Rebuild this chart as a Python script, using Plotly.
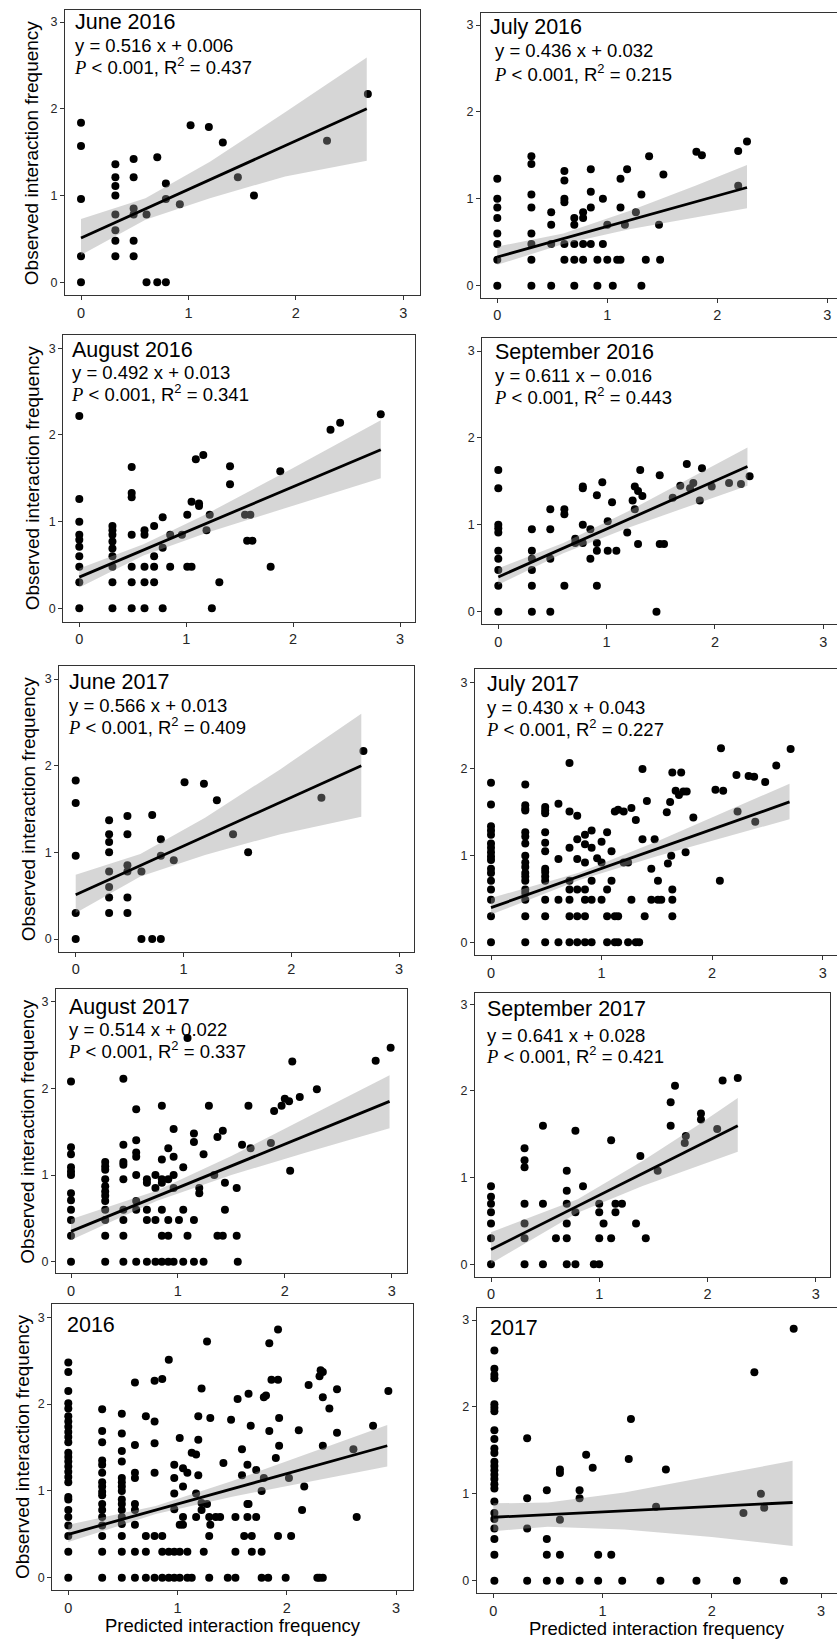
import plotly.graph_objects as go

W, H = 837, 1639

# ---------------- data ----------------
titles = ["June 2016", "July 2016", "August 2016", "September 2016",
          "June 2017", "July 2017", "August 2017", "September 2017",
          "2016", "2017"]
equations = ["y = 0.516 x + 0.006", "y = 0.436 x + 0.032", "y = 0.492 x + 0.013",
             "y = 0.611 x − 0.016", "y = 0.566 x + 0.013", "y = 0.430 x + 0.043",
             "y = 0.514 x + 0.022", "y = 0.641 x + 0.028", None, None]
r_squared = ["0.437", "0.215", "0.341", "0.443", "0.409", "0.227", "0.337", "0.421", None, None]
x_title = "Predicted interaction frequency"
y_title = "Observed interaction frequency"
tick_vals = [0, 1, 2, 3]

# June 2016
p1_x = [0, 0, 0, 0, 0, .32, .32, .32, .32, .32, .32, .32, .32, .49, .49, .49, .49, .49, .49,
        .61, .61, .71, .71, .79, .79, .79, .92, 1.02, 1.19, 1.32, 1.46, 1.61, 2.29, 2.67]
p1_y = [1.84, 1.57, .96, .30, 0, 1.36, 1.21, 1.11, 1.0, .78, .60, .48, .30, 1.42, 1.21, .85, .78, .48, .30,
        .78, 0, 1.44, 0, 1.14, .96, 0, .90, 1.81, 1.79, 1.61, 1.21, 1.0, 1.63, 2.17]
# July 2016
p2_x = [0, 0, 0, 0, 0, 0, 0, 0, .31, .31, .31, .31, .31, .31, .31, .31, .49, .49, .49, .49,
        .61, .61, .61, .61, .61, .61, .70, .70, .70, .70, .70, .78, .78, .78, .78, .85, .85, .85, .85,
        .91, .91, .96, .96, 1.0, 1.0, 1.05, 1.09, 1.12, 1.12, 1.12, 1.16, 1.18, 1.26, 1.31, 1.31,
        1.35, 1.38, 1.47, 1.48, 1.51, 1.81, 1.86, 2.19, 2.19, 2.27]
p2_y = [1.23, 1.0, .90, .78, .60, .48, .30, 0, 1.49, 1.40, 1.05, .90, .60, .48, .30, 0, .845, .70, .48, 0,
        1.32, 1.21, 1.0, .96, .48, .30, .78, .70, .48, .30, 0, .845, .78, .48, .30, 1.34, 1.08, .90, .48,
        .30, 0, 1.0, .48, .70, .30, 0, .30, .30, 1.23, .90, .70, 1.34, .845, 1.05, 0,
        .30, 1.49, .70, .30, 1.28, 1.54, 1.50, 1.55, 1.15, 1.66]
# August 2016
p3_x = [0, 0, 0, 0, 0, 0, 0, 0, 0, 0, .31, .31, .31, .31, .31, .31, .31, .31, .31,
        .49, .49, .49, .49, .49, .49, .49, .61, .61, .61, .61, .61, .70, .70, .70, .70,
        .78, .78, .78, .85, .85, .96, 1.01, 1.01, 1.05, 1.05, 1.09, 1.12, 1.12, 1.16, 1.19, 1.22,
        1.24, 1.31, 1.41, 1.41, 1.55, 1.60, 1.57, 1.62, 1.79, 1.88, 2.35, 2.44, 2.82]
p3_y = [2.22, 1.26, 1.0, .85, .79, .71, .60, .48, .30, 0, .95, .90, .85, .77, .69, .60, .48, .30, 0,
        1.63, 1.33, 1.28, .85, .48, .30, 0, .90, .85, .48, .30, 0, .95, .60, .48, .30,
        1.05, .70, 0, .85, .48, .85, 1.08, .48, .48, 1.23, 1.72, 1.21, 1.18, 1.77, .90, 1.08,
        0, .30, 1.64, 1.43, 1.08, 1.08, .78, .78, .48, 1.58, 2.06, 2.14, 2.24]
# September 2016
p4_x = [0, 0, 0, 0, 0, 0, 0, 0, 0, 0, .31, .31, .31, .31, .31, .31, .48, .48, .48, .48,
        .61, .61, .61, .71, .71, .78, .78, .78, .78, .85, .85, .91, .91, .91, .91, .96,
        1.01, 1.01, 1.05, 1.09, 1.19, 1.24, 1.26, 1.26, 1.29, 1.29, 1.31, 1.33, 1.46, 1.49, 1.49,
        1.53, 1.61, 1.68, 1.74, 1.77, 1.80, 1.86, 1.88, 1.97, 2.13, 2.24, 2.32]
p4_y = [1.63, 1.42, 1.0, .96, .91, .70, .61, .48, .30, 0, .95, .70, .61, .48, .30, 0, 1.18, .95, .61, 0,
        1.18, 1.12, .30, .84, .79, 1.44, 1.42, 1.0, .79, .95, .61, 1.34, .79, .70, .30, 1.49,
        1.04, .70, 1.26, .70, .91, 1.28, 1.44, 1.18, 1.39, .78, 1.63, 1.33, 0, 1.57, .78,
        .78, 1.31, 1.45, 1.70, 1.42, 1.48, 1.28, 1.65, 1.44, 1.48, 1.47, 1.56]
# June 2017
p5_x = [0, 0, 0, 0, 0, .31, .31, .31, .31, .31, .31, .31, .31, .48, .48, .48, .48, .48, .48,
        .61, .61, .71, .71, .79, .79, .79, .91, 1.01, 1.19, 1.31, 1.46, 1.60, 2.28, 2.67]
p5_y = [1.83, 1.57, .96, .30, 0, 1.37, 1.21, 1.12, 1.0, .78, .60, .48, .30, 1.42, 1.21, .85, .78, .48, .30,
        .78, 0, 1.43, 0, 1.15, .96, 0, .91, 1.81, 1.79, 1.60, 1.21, 1.0, 1.63, 2.17]
# July 2017
p6_x = [0] * 17 + [.31] * 18 + [.49] * 13 + [.61] * 4 + [.71] * 8 + [.78] * 6 + [.85] * 7 + [.91] * 5 + \
       [.96, 1.0, 1.0, 1.0, 1.05, 1.05, 1.05, 1.05, 1.09, 1.09, 1.12, 1.12, 1.12, 1.15, 1.15, 1.15,
        1.20, 1.20, 1.24, 1.24, 1.27, 1.27, 1.31, 1.31, 1.34, 1.37, 1.37, 1.39, 1.41, 1.45, 1.45,
        1.48, 1.51, 1.51, 1.54, 1.59, 1.60, 1.62, 1.63, 1.64, 1.64, 1.64, 1.64, 1.67, 1.70, 1.72,
        1.74, 1.77, 1.76, 1.83, 2.03, 2.08, 2.07, 2.10, 2.22, 2.33, 2.38, 2.23, 2.39, 2.48, 2.58, 2.71]
p6_y = [1.84, 1.59, 1.34, 1.29, 1.24, 1.14, 1.09, 1.04, .99, .95, .85, .80, .71, .61, .49, .30, 0,
        1.82, 1.58, 1.54, 1.52, 1.27, 1.22, 1.14, 1.0, .92, .87, .80, .76, .71, .61, .57, .49, .30, 0,
        1.56, 1.52, 1.49, 1.27, 1.15, 1.05, .85, .81, .76, .71, .49, .30, 0,
        1.60, .96, .49, 0,
        2.07, 1.51, 1.09, .71, .61, .49, .30, 0,
        1.46, 1.19, .96, .61, .30, 0,
        1.24, 1.13, .92, .61, .49, .30, 0,
        1.29, 1.09, .71, .49, 0,
        .97, .92, 1.16, .49, 1.27, .61, .30, 0, 1.05, .71, 1.51, .30, 0, 1.53, .30, 0,
        1.51, .92, .92, 0, 1.55, .49, 1.41, 0, 0, 2.0, 1.19, .30, 1.63, .85, .49,
        1.19, .71, .49, .49, 1.50, .91, 1.62, 1.0, 1.96, .61, .49, .30, 1.75, 1.70, 1.96,
        1.74, 1.74, 1.04, 1.44, 1.76, 2.24, .71, 1.75, 1.93, 1.92, 1.91, 1.51, 1.39, 1.85, 2.04, 2.23]
# August 2017
p7_x = [0] * 12 + [.32] * 12 + [.49] * 9 + [.61] * 8 + [.71] * 5 + [.79] * 4 + [.85] * 7 + [.91] * 5 + \
       [.96] * 5 + [1.01, 1.05, 1.05, 1.05, 1.09, 1.09, 1.15, 1.15, 1.15, 1.15, 1.20, 1.20, 1.24, 1.24,
                    1.29, 1.34, 1.37, 1.37, 1.42, 1.42, 1.44, 1.44, 1.55, 1.55, 1.56, 1.60, 1.68, 1.66,
                    1.87, 1.90, 1.97, 2.0, 2.04, 2.05, 2.07, 2.14, 2.30, 2.85, 2.99]
p7_y = [2.08, 1.32, 1.24, 1.09, 1.04, 1.0, .79, .71, .60, .48, .30, 0,
        1.15, 1.10, 1.06, .95, .87, .81, .76, .70, .60, .48, .30, 0,
        2.11, 1.35, 1.15, 1.12, .95, .60, .48, .30, 0,
        1.76, 1.40, 1.26, 1.21, 1.0, .70, .60, 0,
        .95, .91, .60, .48, 0,
        1.0, .85, .48, 0,
        1.80, 1.18, .95, .91, .60, .30, 0,
        1.31, .95, .48, .30, 0,
        1.53, 1.21, 1.0, .85, 0,
        .48, 1.09, .60, 0, 2.58, .30, 1.48, 1.38, .48, 0, .85, .79, 1.24, 0,
        1.80, 1.0, 1.44, .30, 1.51, .30, .91, .60, .85, .30, 0, 1.35, 1.31, 1.80,
        1.37, 1.74, 1.80, 1.88, 1.85, 1.05, 2.31, 1.90, 1.99, 2.32, 2.47]
# September 2017
p8_x = [0] * 7 + [.31] * 7 + [.48] * 3 + [.60] + [.70] * 6 + [.78] * 3 + \
       [.85, .95, 1.0, 1.0, 1.0, 1.0, 1.04, 1.11, 1.11, 1.15, 1.15, 1.21, 1.34, 1.38, 1.43, 1.54,
        1.66, 1.66, 1.70, 1.79, 1.80, 1.94, 1.94, 2.09, 2.14, 2.28]
p8_y = [.90, .78, .70, .60, .47, .30, 0,
        1.34, 1.20, 1.12, .70, .47, .30, 0,
        1.60, .70, 0, .30,
        1.08, .85, .70, .47, .30, 0,
        1.54, .60, 0,
        .90, 0, 0, .70, .60, .30, .47, 1.43, .30, .70, .60, .70, .47, 1.25, .30, 1.08,
        1.60, 1.87, 2.06, 1.40, 1.48, 1.67, 1.74, 1.56, 2.12, 2.15]
# 2016 (pooled)
p9_x = [0] * 26 + [.31] * 17 + [.49] * 16 + [.61] * 9 + [.71] * 4 + [.79] * 6 + [.86] * 4 + [.92] * 3 + \
       [.97] * 6 + [1.02] * 4 + [1.05] * 4 + [1.09] * 3 + [1.13] * 2 + [1.17] * 3 + [1.19] * 3 + \
       [1.22, 1.22, 1.22, 1.24, 1.27, 1.27, 1.29, 1.29, 1.29, 1.30, 1.30, 1.35, 1.39, 1.42, 1.46,
        1.49, 1.53, 1.53, 1.53, 1.55, 1.59, 1.59, 1.61, 1.64, 1.64, 1.64, 1.65, 1.65, 1.67, 1.68,
        1.68, 1.72, 1.72, 1.77, 1.77, 1.77, 1.79, 1.79, 1.81, 1.83, 1.84, 1.84, 1.86, 1.92, 1.92,
        1.92, 1.93, 1.93, 1.90, 1.99, 2.02, 2.04, 2.11, 2.14, 2.16, 2.20, 2.28, 2.30, 2.30, 2.31,
        2.33, 2.33, 2.33, 2.33, 2.39, 2.46, 2.46, 2.61, 2.64, 2.79, 2.93]
p9_y = [2.48, 2.37, 2.15, 2.01, 1.95, 1.86, 1.80, 1.74, 1.68, 1.62, 1.56, 1.44, 1.39, 1.34, 1.28, 1.22,
        1.16, 1.10, .93, .90, .78, .70, .60, .48, .30, 0,
        1.94, 1.69, 1.56, 1.35, 1.30, 1.21, 1.10, 1.05, .99, .95, .85, .78, .70, .60, .48, .30, 0,
        1.89, 1.66, 1.46, 1.34, 1.15, 1.10, 1.05, 1.0, .90, .85, .78, .70, .62, .48, .30, 0,
        2.25, 1.53, 1.21, 1.15, .85, .78, .61, .30, 0,
        1.86, .48, .30, 0,
        2.27, 1.80, 1.55, 1.21, .48, 0,
        2.29, .48, .30, 0,
        2.51, .30, 0,
        1.30, 1.15, .97, .79, .30, 0,
        1.61, .61, .30, 0,
        1.26, 1.05, .70, .61,
        1.21, .30, 0,
        1.44, 0,
        1.42, .97, .70,
        1.86, 1.59, 1.18,
        2.18, .86, .78, .30, 2.72, .85, .70, .48, 0, 1.84, .61, .70, .70, 1.32, 0,
        1.82, .70, 0, .30, 2.06, 1.48, 1.18, .48, 1.30, .85, .70, .85, 2.12, 1.75, .48,
        .30, 1.24, .70, 1.0, .30, 0, 2.08, 1.15, 2.10, 0, 2.70, 1.69, 2.28, 2.86, 2.28,
        .48, 1.84, 1.52, 1.38, 0, 1.15, .48, 1.70, .78, 1.05, 2.22, 0, 2.32, 0, 2.39,
        2.37, 2.08, 1.52, 0, 1.95, 2.17, 1.67, 1.48, .70, 1.75, 2.15]
# 2017 (pooled)
p10_x = [.01] * 25 + [.31] * 4 + [.49] * 4 + [.61] * 5 + [.79] * 3 + \
        [.85, .91, .96, .96, 1.08, 1.18, 1.24, 1.26, 1.49, 1.53, 1.58, 1.86, 2.23, 2.29, 2.39,
         2.45, 2.48, 2.66, 2.75]
p10_y = [2.65, 2.44, 2.37, 2.33, 2.03, 1.99, 1.95, 1.73, 1.63, 1.52, 1.47, 1.37, 1.32, 1.27, 1.22,
         1.17, 1.11, 1.06, .91, .78, .71, .60, .48, .30, 0,
         1.64, .95, .60, 0,
         1.04, .48, .30, 0,
         1.28, 1.24, .70, .30, 0,
         1.04, .95, 0,
         1.45, 1.30, .30, 0, .30, 0, 1.40, 1.86, .85, 0, 1.28, 0, 0, .78, 2.40,
         1.0, .84, 0, 2.90]

points_x = [p1_x, p2_x, p3_x, p4_x, p5_x, p6_x, p7_x, p8_x, p9_x, p10_x]
points_y = [p1_y, p2_y, p3_y, p4_y, p5_y, p6_y, p7_y, p8_y, p9_y, p10_y]

# fitted line end points and confidence band
fit_x = [[0, 2.66], [0, 2.27], [0, 2.82], [0, 2.30], [0, 2.65],
         [0, 2.70], [0, 2.98], [0, 2.28], [0, 2.92], [0, 2.74]]
fit_y = [[.51, 2.0], [.33, 1.13], [.36, 1.83], [.40, 1.67], [.51, 2.0],
         [.40, 1.62], [.35, 1.85], [.17, 1.60], [.50, 1.52], [.73, .90]]
band_x = [[0, .6, 1.2, 1.9, 2.66], [0, .6, 1.2, 1.8, 2.27], [0, .6, 1.2, 2.0, 2.82],
          [0, .6, 1.2, 1.8, 2.3], [0, .6, 1.2, 1.9, 2.65], [0, .8, 1.5, 2.1, 2.7],
          [0, .8, 1.5, 2.2, 2.98], [0, .8, 1.4, 1.9, 2.28], [0, .8, 1.5, 2.2, 2.92],
          [0, .5, 1.2, 2.0, 2.74]]
band_lo = [[.315, .72, .97, 1.22, 1.40], [.24, .48, .65, .78, .89], [.24, .61, .875, 1.185, 1.50],
           [.31, .673, .967, 1.233, 1.45], [.30, .72, .97, 1.21, 1.41], [.32, .718, .992, 1.205, 1.42],
           [.25, .70, 1.0, 1.26, 1.54], [.01, .594, .903, 1.125, 1.30], [.41, .733, .934, 1.106, 1.28],
           [.57, .62, .59, .504, .40]]
band_hi = [[.73, .97, 1.39, 1.96, 2.59], [.45, .60, .86, 1.15, 1.39], [.46, .74, 1.095, 1.62, 2.17],
           [.50, .79, 1.157, 1.555, 1.89], [.74, .98, 1.40, 1.96, 2.60], [.51, .806, 1.164, 1.493, 1.83],
           [.49, .82, 1.22, 1.66, 2.15], [.37, .75, 1.193, 1.597, 1.92], [.61, .825, 1.114, 1.43, 1.76],
           [.89, .90, 1.016, 1.204, 1.38]]

# ---------------- layout (pixel geometry) ----------------
# box left, right, top, bottom; pixel of x=0, x=3; pixel of y=0, y=3
boxes = [
    (65, 420, 10, 295, 81, 403.3, 282.3, 22),
    (481, 837, 12.7, 297.7, 497.3, 827.3, 285.7, 25),
    (63.3, 415, 335, 621.7, 79.3, 400, 608.3, 348.3),
    (482.3, 837, 338.3, 624, 498.3, 823.3, 611.7, 351),
    (59.3, 414.3, 666, 951.7, 75.7, 399, 939, 679),
    (475, 837, 669.3, 955, 491, 822.7, 942.3, 682.3),
    (56, 406.7, 989.3, 1273, 71, 391.7, 1261.7, 1001.7),
    (475, 830, 992.7, 1276.7, 491, 815.7, 1264.3, 1004.3),
    (52.3, 413.3, 1304, 1590, 68.3, 396, 1577.7, 1317.3),
    (476.7, 837, 1307.7, 1593.3, 493.3, 821, 1580.7, 1320),
]
# text: title left, eq left, title baseline, eq baseline, stat baseline
text_pos = [
    (73.3, 73.3, 30, 53.3, 75),
    (488.3, 492.7, 35, 58.3, 81.7),
    (70, 70, 358.3, 380, 401.7),
    (492.7, 492.7, 360.7, 382.7, 405),
    (66.7, 66.7, 690.7, 713.3, 735),
    (485, 485, 692.7, 715, 736.7),
    (66.7, 66.7, 1015, 1036.7, 1059.3),
    (485, 485, 1017.3, 1042.7, 1064),
    (65, 65, 1333.3, None, None),
    (488.3, 488.3, 1336, None, None),
]
ytitle_pos = [(31.7, 152.5), (33.3, 478), (28.3, 809), (26.7, 1131), (22, 1447)]
xtitle_pos = [(233, 1625), (657, 1628)]

FONT = "Liberation Sans, Arial, sans-serif"
TITLE_FS, EQ_FS = 21.5, 18.5


def px(v):
    return v / W


def py(v):
    return 1 - v / H


fig = go.Figure()
annotations = []
layout = {}

for i in range(10):
    L, R, T, B, x0p, x3p, y0p, y3p = boxes[i]
    sx = (x3p - x0p) / 3
    sy = (y0p - y3p) / 3
    xr = [(L - x0p) / sx, (R - x0p) / sx]
    yr = [(y0p - B) / sy, (y0p - T) / sy]
    n = "" if i == 0 else str(i + 1)
    xa, ya = "x" + n, "y" + n

    fig.add_trace(go.Scatter(x=points_x[i], y=points_y[i], mode="markers",
                             marker=dict(size=8, color="black", line=dict(width=0)),
                             xaxis=xa, yaxis=ya, showlegend=False, hoverinfo="skip"))
    bx = list(band_x[i]) + list(band_x[i][::-1])
    by = list(band_lo[i]) + list(band_hi[i][::-1])
    fig.add_trace(go.Scatter(x=bx, y=by, mode="lines", fill="toself",
                             fillcolor="rgba(153,153,153,0.4)", line=dict(width=0),
                             xaxis=xa, yaxis=ya, showlegend=False, hoverinfo="skip"))
    fig.add_trace(go.Scatter(x=fit_x[i], y=fit_y[i], mode="lines",
                             line=dict(color="black", width=2.8),
                             xaxis=xa, yaxis=ya, showlegend=False, hoverinfo="skip"))

    common = dict(showgrid=False, zeroline=False, showline=True, mirror=True,
                  linecolor="#333333", linewidth=1.2, ticks="outside", ticklen=4,
                  tickwidth=1, tickcolor="#333333", tickvals=tick_vals, fixedrange=True)
    layout["xaxis" + n] = dict(common, domain=[px(L), px(R)], range=xr, anchor=ya,
                               tickfont=dict(family=FONT, size=14.5, color="#262626"))
    layout["yaxis" + n] = dict(common, domain=[py(B), py(T)], range=yr, anchor=xa,
                               tickfont=dict(family=FONT, size=12.5, color="#262626"))

    tl, el, tb, eb, sb = text_pos[i]
    annotations.append(dict(text=titles[i], xref="paper", yref="paper",
                            x=px(tl), y=py(tb + 0.212 * TITLE_FS + 1),
                            xanchor="left", yanchor="bottom", showarrow=False,
                            font=dict(family=FONT, size=TITLE_FS, color="black")))
    if equations[i]:
        annotations.append(dict(text=equations[i], xref="paper", yref="paper",
                                x=px(el), y=py(eb + 0.212 * EQ_FS + 1),
                                xanchor="left", yanchor="bottom", showarrow=False,
                                font=dict(family=FONT, size=EQ_FS, color="black")))
        stat = ('<span style="font-family:Liberation Serif"><i>P</i></span> &lt; 0.001, '
                'R<sup>2</sup> = ' + r_squared[i])
        annotations.append(dict(text=stat, xref="paper", yref="paper",
                                x=px(el - 1), y=py(sb + 0.212 * EQ_FS + 1),
                                xanchor="left", yanchor="bottom", showarrow=False,
                                font=dict(family=FONT, size=EQ_FS, color="black")))

for (xc, yc) in ytitle_pos:
    annotations.append(dict(text=y_title, xref="paper", yref="paper", x=px(xc), y=py(yc),
                            xanchor="center", yanchor="middle", textangle=-90, showarrow=False,
                            font=dict(family=FONT, size=19, color="black")))
for (xc, yc) in xtitle_pos:
    annotations.append(dict(text=x_title, xref="paper", yref="paper", x=px(xc), y=py(yc),
                            xanchor="center", yanchor="middle", showarrow=False,
                            font=dict(family=FONT, size=18.5, color="black")))

fig.update_layout(width=W, height=H, margin=dict(l=0, r=0, t=0, b=0),
                  paper_bgcolor="white", plot_bgcolor="white",
                  annotations=annotations, **layout)

fig.write_html("out.html", include_plotlyjs=True, full_html=True,
               config={"displayModeBar": False})
